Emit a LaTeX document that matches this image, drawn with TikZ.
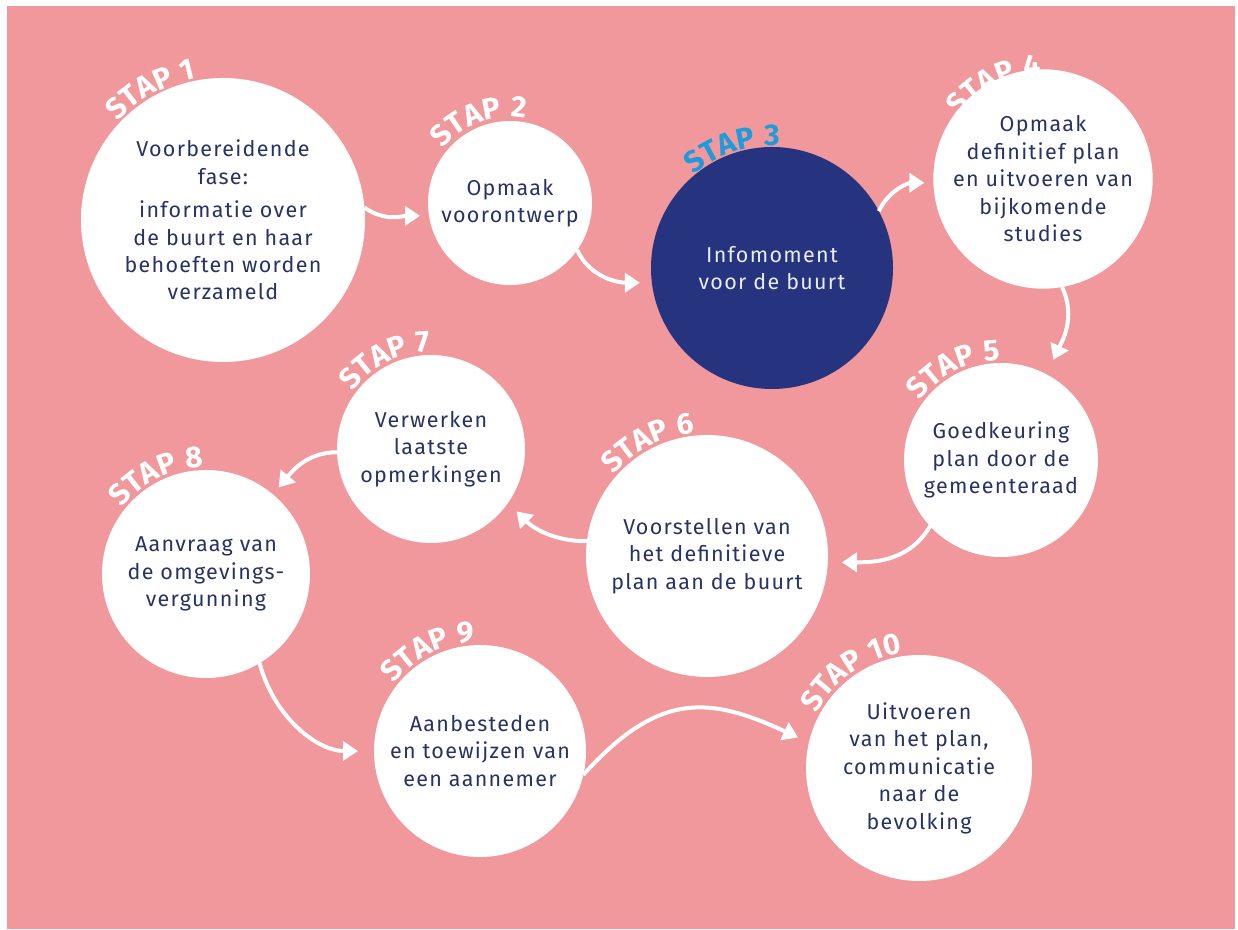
\documentclass[tikz,border=0pt]{standalone}
\usepackage{fontspec}
\setmainfont{Fira Sans}[LetterSpace=6]
\newfontfamily\stapfont{Fira Sans}[LetterSpace=4]
\usetikzlibrary{decorations.text,arrows.meta,calc}
\definecolor{bgpink}{RGB}{240,152,155}
\definecolor{navytext}{RGB}{40,50,100}
\definecolor{darkblue}{RGB}{38,52,128}
\definecolor{stapblue}{RGB}{30,155,220}
\definecolor{lighttext}{RGB}{232,236,245}
\newcommand\staplbl[5]{%
  \path[decorate, decoration={text along path, text={|\stapfont\bfseries\fontsize{30}{30}\selectfont\color{#5}|#4}}]
    ($(#1.center)+(#3:#2)$) arc[start angle=#3, end angle=10, radius=#2];}
\begin{document}
\begin{tikzpicture}[x=1pt,y=1pt,
  stepcircle/.style={circle, fill=white, inner sep=0pt, outer sep=0pt, minimum size=#1,
    text=navytext, align=center, font=\fontsize{21.5}{27.5}\selectfont},
  flow/.style={white, line width=4pt, -{Triangle[length=15pt,width=19pt]}},
]
\useasboundingbox (0,0) rectangle (1238,929);
\fill[white] (0,0) rectangle (1238,929);
\fill[bgpink] (7,0) rectangle (1235,923);

\node[stepcircle=284] (s1) at (223,709) {Voorbereidende\\ fase:\\[6pt] informatie over\\ de buurt en haar\\ behoeften worden\\ verzameld};
\node[stepcircle=164] (s2) at (510,726) {Opmaak\\ voorontwerp};
\node[stepcircle=242, fill=darkblue, text=lighttext] (s3) at (772,661) {Infomoment\\ voor de buurt};
\node[stepcircle=202] (s4) at (1043,750) {Opmaak\\ definitief plan\\ en uitvoeren van\\ bijkomende\\ studies};
\node[stepcircle=194] (s5) at (1001,469) {Goedkeuring\\ plan door de\\ gemeenteraad};
\node[stepcircle=242] (s6) at (707,373) {Voorstellen van\\ het definitieve\\ plan aan de buurt};
\node[stepcircle=188] (s7) at (431,480) {Verwerken\\ laatste\\ opmerkingen};
\node[stepcircle=208] (s8) at (206,355) {Aanvraag van\\ de omgevings-\\ vergunning};
\node[stepcircle=212] (s9) at (480,178) {Aanbesteden\\ en toewijzen van\\ een aannemer};
\node[stepcircle=226] (s10) at (919,161) {Uitvoeren\\ van het plan,\\ communicatie\\ naar de\\ bevolking};

\staplbl{s1}{144}{137}{STAP 1}{white}
\staplbl{s2}{86}{141}{STAP 2}{white}
\staplbl{s3}{122}{130}{STAP 3}{stapblue}
\staplbl{s4}{104}{143}{STAP 4}{white}
\staplbl{s5}{100}{144}{STAP 5}{white}
\staplbl{s6}{124}{139}{STAP 6}{white}
\staplbl{s7}{97}{144}{STAP 7}{white}
\staplbl{s8}{107}{142}{STAP 8}{white}
\staplbl{s9}{109}{142}{STAP 9}{white}
\staplbl{s10}{116}{152}{STAP 10}{white}

\draw[flow, shorten >=9pt] (s1.5) to[out=-35,in=180] (s2.189);
\draw[flow, shorten >=12pt] (s2.-35) to[out=-65,in=180] (s3.187);
\draw[flow, shorten >=9pt] (s3.28) to[out=65,in=180] (s4.182);
\draw[flow, shorten >=16pt] (s4.-80) to[out=-65,in=65] (s5.62);
\draw[flow, shorten >=14pt] (s5.223) to[out=240,in=0] (s6.-3);
\draw[flow, shorten >=12pt] (s6.173) to[out=180,in=-45] (s7.-35);
\draw[flow, shorten >=9pt] (s7.182) to[out=180,in=50] (s8.50);
\draw[flow, shorten >=16pt] (s8.-59) to[out=-75,in=180] (s9.180);
\draw[flow, shorten >=12pt] (s9.-13) to[out=48,in=155,looseness=1.25] (s10.167);
\end{tikzpicture}
\end{document}
